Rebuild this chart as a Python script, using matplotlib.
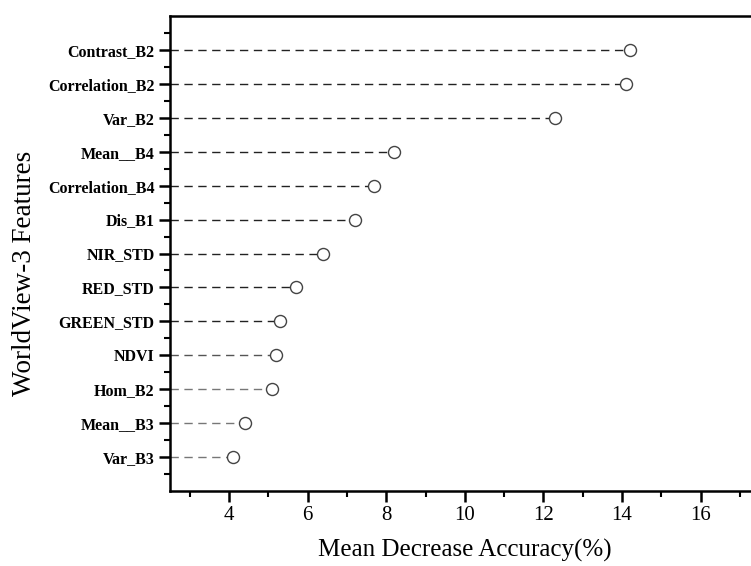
import matplotlib
matplotlib.use("Agg")
import matplotlib.pyplot as plt
from matplotlib.ticker import MultipleLocator

features = ["Contrast_B2", "Correlation_B2", "Var_B2", "Mean__B4", "Correlation_B4",
            "Dis_B1", "NIR_STD", "RED_STD", "GREEN_STD", "NDVI", "Hom_B2",
            "Mean__B3", "Var_B3"]
values = [14.2, 14.1, 12.3, 8.2, 7.7, 7.2, 6.4, 5.7, 5.3, 5.2, 5.1, 4.4, 4.1]
line_colors = ["#222222"] * 9 + ["#555555", "#777777", "#777777", "#777777"]
xticks = [4, 6, 8, 10, 12, 14, 16]

serif = ["Liberation Serif", "DejaVu Serif"]
plt.rcParams['font.family'] = serif

fig = plt.figure(figsize=(7.51, 5.66), dpi=100)
ax = fig.add_axes([170/751, 75/566, 1 - 170/751, (491-16)/566])

xmin, xmax = 2.5, 17.28
n = len(features)
ypos = list(range(n, 0, -1))

for y, v, c in zip(ypos, values, line_colors):
    ax.plot([xmin, v], [y, y], linestyle=(0, (6, 4)), color=c, linewidth=1.0, zorder=2)
ax.scatter(values, ypos, s=75, facecolor="white", edgecolor="#444444", linewidth=1.0, zorder=3)

ax.set_xlim(xmin, xmax)
ax.set_ylim(0, n + 1)
ax.set_yticks(ypos)
ax.set_yticklabels(features, fontsize=11.5, fontweight="bold")
ax.set_yticks([i + 0.5 for i in range(0, n + 1)], minor=True)
ax.set_xticks(xticks)
ax.set_xticklabels([str(t) for t in xticks], fontsize=15)
ax.xaxis.set_minor_locator(MultipleLocator(1))

ax.spines['right'].set_visible(False)
for s in ['left', 'top', 'bottom']:
    ax.spines[s].set_linewidth(1.8)
ax.tick_params(axis='both', which='major', direction='out', length=8, width=1.8, pad=3)
ax.tick_params(axis='both', which='minor', direction='out', length=4, width=1.5)

ax.set_xlabel("Mean Decrease Accuracy(%)", fontsize=18, va='center')
ax.set_ylabel("WorldView-3 Features", fontsize=19.5, va='center', ha='center')
ax.xaxis.set_label_coords(0.507, -0.126)
ax.yaxis.set_label_coords(-0.251, 0.459)

fig.savefig("out.png", dpi=100)
